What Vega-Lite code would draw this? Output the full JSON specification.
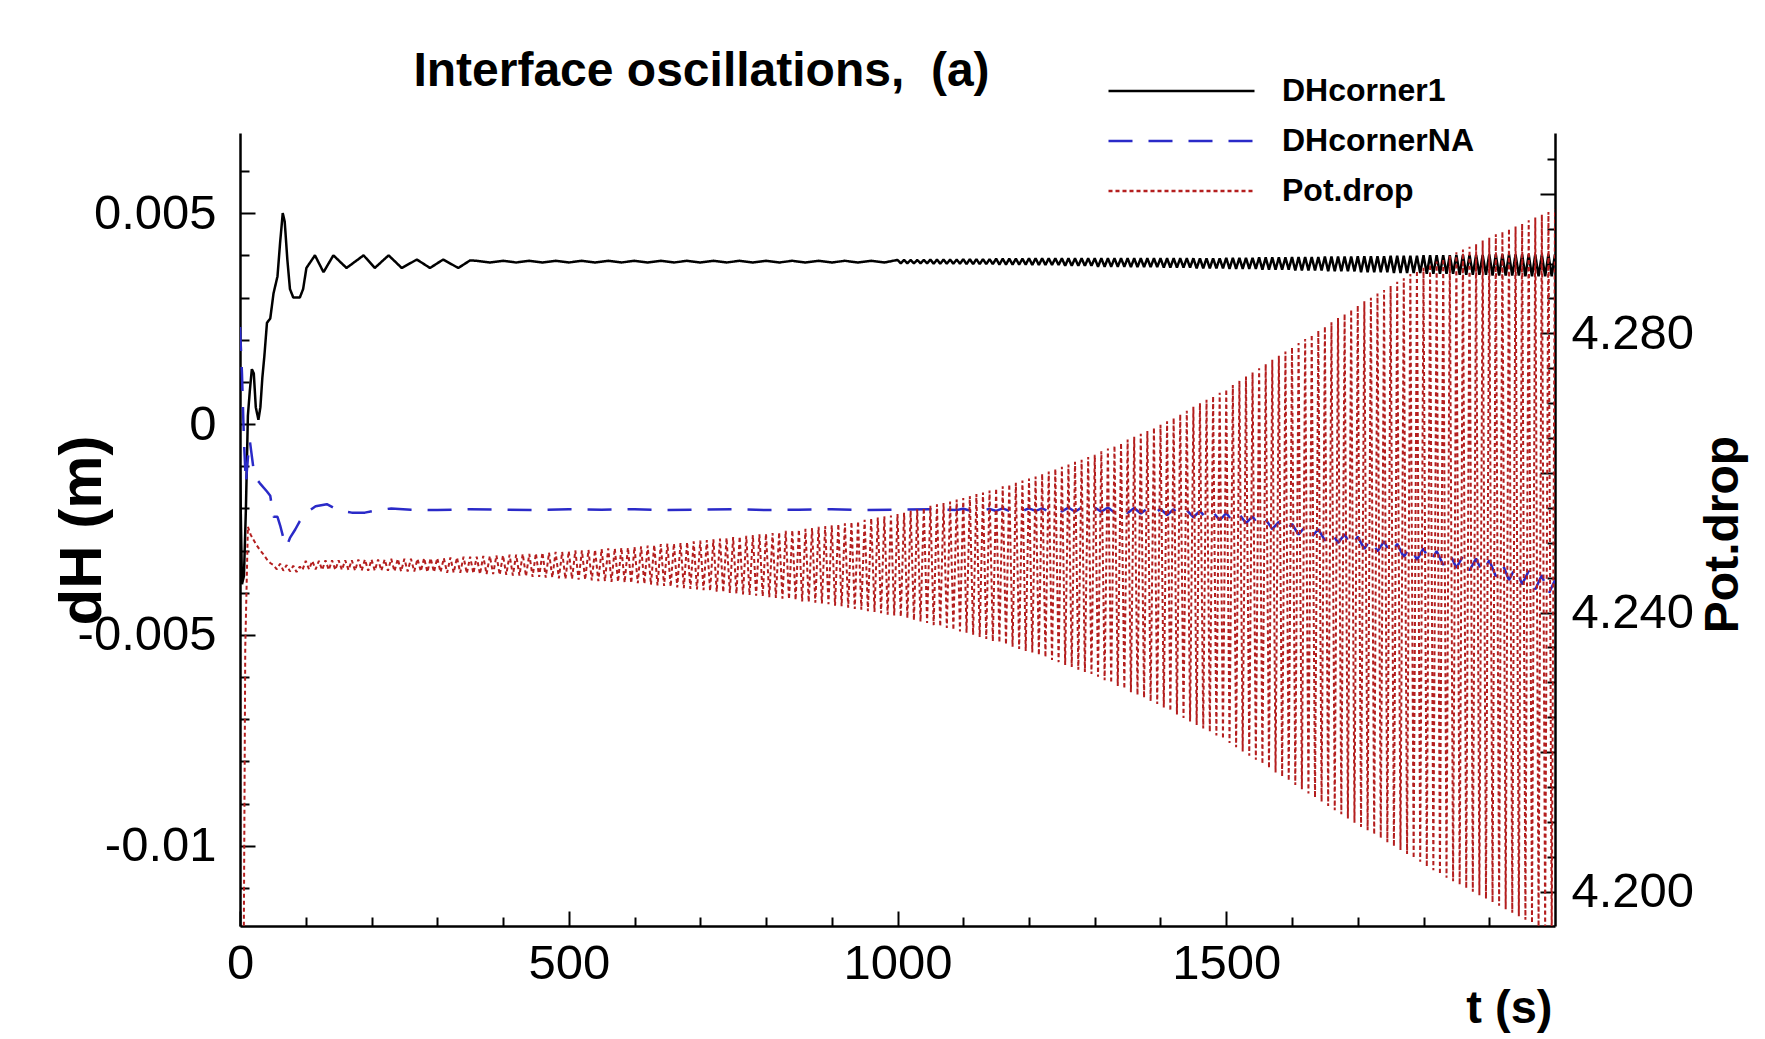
{
  "$schema": "https://vega.github.io/schema/vega-lite/v6.json",
  "width": 1315,
  "height": 793,
  "autosize": {"type": "none"},
  "padding": {"left": 240, "top": 133, "right": 210, "bottom": 113},
  "background": "white",
  "config": {
    "view": {"stroke": null},
    "font": "Liberation Sans",
    "axis": {
      "grid": false,
      "domainColor": "black",
      "domainWidth": 2.5,
      "tickColor": "black",
      "tickWidth": 2,
      "labelColor": "black",
      "titleColor": "black",
      "labelFont": "Liberation Sans",
      "labelFontSize": 49,
      "labelFontWeight": "normal",
      "titleFont": "Liberation Sans",
      "titleFontWeight": "bold",
      "labelOverlap": false,
      "labelFlush": false,
      "labelBound": false,
      "labelLimit": 400
    }
  },
  "title": {
    "text": "Interface oscillations,\u00a0 (a)",
    "anchor": "middle",
    "frame": "group",
    "dx": -196,
    "dy": 112,
    "offset": 44,
    "baseline": "alphabetic",
    "font": "Liberation Sans",
    "fontSize": 48,
    "fontWeight": "bold",
    "color": "black"
  },
  "datasets": {
    "c1": [
      {"t":0,"v":-0.001},{"t":3,"v":-0.0038},{"t":6,"v":-0.0036},{"t":9,"v":-0.002},{"t":12,"v":0.0002},{"t":15,"v":0.0008},{"t":18,"v":0.0013},{"t":21,"v":0.0012},{"t":24,"v":0.0004},{"t":28,"v":0.0001},{"t":31,"v":0.0004},{"t":34,"v":0.0011},{"t":37,"v":0.0016},{"t":41,"v":0.0024},{"t":46,"v":0.0025},{"t":51,"v":0.0031},{"t":57,"v":0.0035},{"t":61,"v":0.0043},{"t":65,"v":0.005},{"t":68,"v":0.0048},{"t":72,"v":0.0039},{"t":76,"v":0.0032},{"t":81,"v":0.003},{"t":91,"v":0.003},{"t":96,"v":0.0032},{"t":101,"v":0.0037},{"t":114,"v":0.004},{"t":127,"v":0.0036},{"t":142,"v":0.004},{"t":162,"v":0.0037},{"t":188,"v":0.004},{"t":205,"v":0.0037},{"t":226,"v":0.004},{"t":246,"v":0.0037},{"t":269,"v":0.0039},{"t":289,"v":0.0037},{"t":309,"v":0.0039},{"t":332,"v":0.0037},{"t":350,"v":0.00388},
      {"t":360,"v":0.00387},{"t":380,"v":0.00383},{"t":400,"v":0.00387},{"t":420,"v":0.00383},{"t":440,"v":0.00387},{"t":460,"v":0.00383},{"t":480,"v":0.00387},{"t":500,"v":0.00383},{"t":520,"v":0.00387},{"t":540,"v":0.00383},{"t":560,"v":0.00387},{"t":580,"v":0.00383},{"t":600,"v":0.00387},{"t":620,"v":0.00383},{"t":640,"v":0.00387},{"t":660,"v":0.00383},{"t":680,"v":0.00387},{"t":700,"v":0.00383},{"t":720,"v":0.00387},{"t":740,"v":0.00383},{"t":760,"v":0.00387},{"t":780,"v":0.00383},{"t":800,"v":0.00387},{"t":820,"v":0.00383},{"t":840,"v":0.00387},{"t":860,"v":0.00383},{"t":880,"v":0.00387},{"t":900,"v":0.00383},{"t":920,"v":0.00387},{"t":940,"v":0.00383},{"t":960,"v":0.00387},{"t":980,"v":0.00383},
      {"t":1000,"v":0.00389},{"t":1005,"v":0.00381},{"t":1010,"v":0.00389},{"t":1015,"v":0.00381},{"t":1020,"v":0.00389},{"t":1025,"v":0.00381},{"t":1030,"v":0.00389},{"t":1035,"v":0.00381},{"t":1040,"v":0.00389},{"t":1045,"v":0.00381},
      {"t":1050,"v":0.0039},{"t":1055,"v":0.0038},{"t":1060,"v":0.0039},{"t":1065,"v":0.0038},{"t":1070,"v":0.0039},{"t":1075,"v":0.0038},{"t":1080,"v":0.0039},{"t":1085,"v":0.0038},{"t":1090,"v":0.0039},{"t":1095,"v":0.0038},
      {"t":1100,"v":0.00391},{"t":1105,"v":0.00379},{"t":1110,"v":0.00391},{"t":1115,"v":0.00379},{"t":1120,"v":0.00391},{"t":1125,"v":0.00379},{"t":1130,"v":0.00391},{"t":1135,"v":0.00379},{"t":1140,"v":0.00391},{"t":1145,"v":0.00379},
      {"t":1150,"v":0.00392},{"t":1155,"v":0.00378},{"t":1160,"v":0.00392},{"t":1165,"v":0.00378},{"t":1170,"v":0.00392},{"t":1175,"v":0.00378},{"t":1180,"v":0.00392},{"t":1185,"v":0.00378},{"t":1190,"v":0.00392},{"t":1195,"v":0.00378},
      {"t":1200,"v":0.00393},{"t":1205,"v":0.00377},{"t":1210,"v":0.00393},{"t":1215,"v":0.00377},{"t":1220,"v":0.00393},{"t":1225,"v":0.00377},{"t":1230,"v":0.00393},{"t":1235,"v":0.00377},{"t":1240,"v":0.00393},{"t":1245,"v":0.00377},
      {"t":1250,"v":0.00393},{"t":1255,"v":0.00375},{"t":1260,"v":0.00393},{"t":1265,"v":0.00375},{"t":1270,"v":0.00393},{"t":1275,"v":0.00375},{"t":1280,"v":0.00393},{"t":1285,"v":0.00375},{"t":1290,"v":0.00393},{"t":1295,"v":0.00375},
      {"t":1300,"v":0.00393},{"t":1305,"v":0.00373},{"t":1310,"v":0.00393},{"t":1315,"v":0.00373},{"t":1320,"v":0.00393},{"t":1325,"v":0.00373},{"t":1330,"v":0.00393},{"t":1335,"v":0.00373},{"t":1340,"v":0.00393},{"t":1345,"v":0.00373},
      {"t":1350,"v":0.00393},{"t":1355,"v":0.00372},{"t":1360,"v":0.00393},{"t":1365,"v":0.00372},{"t":1370,"v":0.00393},{"t":1375,"v":0.00372},{"t":1380,"v":0.00393},{"t":1385,"v":0.00372},{"t":1390,"v":0.00393},{"t":1395,"v":0.00372},
      {"t":1400,"v":0.00393},{"t":1405,"v":0.00371},{"t":1410,"v":0.00393},{"t":1415,"v":0.00371},{"t":1420,"v":0.00393},{"t":1425,"v":0.00371},{"t":1430,"v":0.00393},{"t":1435,"v":0.00371},{"t":1440,"v":0.00393},{"t":1445,"v":0.00371},
      {"t":1450,"v":0.00393},{"t":1455,"v":0.00369},{"t":1460,"v":0.00393},{"t":1465,"v":0.00369},{"t":1470,"v":0.00393},{"t":1475,"v":0.00369},{"t":1480,"v":0.00393},{"t":1485,"v":0.00369},{"t":1490,"v":0.00393},{"t":1495,"v":0.00369},
      {"t":1500,"v":0.00394},{"t":1505,"v":0.00368},{"t":1510,"v":0.00394},{"t":1515,"v":0.00368},{"t":1520,"v":0.00394},{"t":1525,"v":0.00368},{"t":1530,"v":0.00394},{"t":1535,"v":0.00368},{"t":1540,"v":0.00394},{"t":1545,"v":0.00368},
      {"t":1550,"v":0.00395},{"t":1555,"v":0.00366},{"t":1560,"v":0.00395},{"t":1565,"v":0.00366},{"t":1570,"v":0.00395},{"t":1575,"v":0.00366},{"t":1580,"v":0.00395},{"t":1585,"v":0.00366},{"t":1590,"v":0.00395},{"t":1595,"v":0.00366},
      {"t":1600,"v":0.00396},{"t":1605,"v":0.00364},{"t":1610,"v":0.00396},{"t":1615,"v":0.00364},{"t":1620,"v":0.00396},{"t":1625,"v":0.00364},{"t":1630,"v":0.00396},{"t":1635,"v":0.00364},{"t":1640,"v":0.00396},{"t":1645,"v":0.00364},
      {"t":1650,"v":0.00397},{"t":1655,"v":0.00362},{"t":1660,"v":0.00397},{"t":1665,"v":0.00362},{"t":1670,"v":0.00397},{"t":1675,"v":0.00362},{"t":1680,"v":0.00397},{"t":1685,"v":0.00362},{"t":1690,"v":0.00397},{"t":1695,"v":0.00362},
      {"t":1700,"v":0.00398},{"t":1705,"v":0.0036},{"t":1710,"v":0.00398},{"t":1715,"v":0.0036},{"t":1720,"v":0.00398},{"t":1725,"v":0.0036},{"t":1730,"v":0.00398},{"t":1735,"v":0.0036},{"t":1740,"v":0.00398},{"t":1745,"v":0.0036},
      {"t":1750,"v":0.00399},{"t":1755,"v":0.00358},{"t":1760,"v":0.00399},{"t":1765,"v":0.00358},{"t":1770,"v":0.00399},{"t":1775,"v":0.00358},{"t":1780,"v":0.00399},{"t":1785,"v":0.00358},{"t":1790,"v":0.00399},{"t":1795,"v":0.00358},
      {"t":1800,"v":0.004},{"t":1805,"v":0.00356},{"t":1810,"v":0.004},{"t":1815,"v":0.00356},{"t":1820,"v":0.004},{"t":1825,"v":0.00356},{"t":1830,"v":0.004},{"t":1835,"v":0.00356},{"t":1840,"v":0.004},{"t":1845,"v":0.00356},
      {"t":1850,"v":0.00401},{"t":1855,"v":0.00354},{"t":1860,"v":0.00401},{"t":1865,"v":0.00354},{"t":1870,"v":0.00401},{"t":1875,"v":0.00354},{"t":1880,"v":0.00401},{"t":1885,"v":0.00354},{"t":1890,"v":0.00401},{"t":1895,"v":0.00354},
      {"t":1900,"v":0.00402},{"t":1905,"v":0.00352},{"t":1910,"v":0.00402},{"t":1915,"v":0.00352},{"t":1920,"v":0.00402},{"t":1925,"v":0.00352},{"t":1930,"v":0.00402},{"t":1935,"v":0.00352},{"t":1940,"v":0.00402},{"t":1945,"v":0.00352},
      {"t":1950,"v":0.00402},{"t":1955,"v":0.0035},{"t":1960,"v":0.00402},{"t":1965,"v":0.0035},{"t":1970,"v":0.00402},{"t":1975,"v":0.0035},{"t":1980,"v":0.00402},{"t":1985,"v":0.0035},{"t":1990,"v":0.00402},{"t":1995,"v":0.0035},{"t":2000,"v":0.00402}
    ],
    "na": [
      {"t":0,"v":0.0023},{"t":3,"v":0.0012},{"t":6,"v":-0.0004},{"t":9,"v":-0.0014},{"t":12,"v":-0.0008},{"t":15,"v":-0.0004},{"t":20,"v":-0.001},{"t":25,"v":-0.0013},{"t":30,"v":-0.0014},{"t":41,"v":-0.0016},{"t":46,"v":-0.0017},{"t":51,"v":-0.0022},{"t":57,"v":-0.0022},{"t":61,"v":-0.0024},{"t":66,"v":-0.0027},{"t":71,"v":-0.0029},{"t":76,"v":-0.0027},{"t":84,"v":-0.0025},{"t":91,"v":-0.0023},{"t":101,"v":-0.0021},{"t":115,"v":-0.00195},{"t":132,"v":-0.0019},{"t":150,"v":-0.00205},{"t":170,"v":-0.0021},{"t":190,"v":-0.0021},{"t":205,"v":-0.00205},{"t":230,"v":-0.002},{"t":260,"v":-0.00203},{"t":300,"v":-0.00204},{"t":350,"v":-0.00202},{"t":400,"v":-0.00203},{"t":450,"v":-0.00204},{"t":500,"v":-0.00202},{"t":550,"v":-0.00203},{"t":600,"v":-0.00202},{"t":650,"v":-0.00204},{"t":700,"v":-0.00203},{"t":750,"v":-0.00202},{"t":800,"v":-0.00204},{"t":850,"v":-0.00203},{"t":900,"v":-0.00202},{"t":950,"v":-0.00204},{"t":1000,"v":-0.00203},{"t":1050,"v":-0.00202},{"t":1090,"v":-0.00204},
      {"t":1100,"v":-0.00201},{"t":1110,"v":-0.00205},{"t":1120,"v":-0.00201},{"t":1130,"v":-0.00205},{"t":1140,"v":-0.00201},{"t":1150,"v":-0.00206},{"t":1160,"v":-0.002},{"t":1170,"v":-0.00206},{"t":1180,"v":-0.002},{"t":1190,"v":-0.00206},{"t":1200,"v":-0.002},{"t":1210,"v":-0.00206},{"t":1220,"v":-0.002},{"t":1230,"v":-0.00207},{"t":1240,"v":-0.00199},{"t":1250,"v":-0.00207},{"t":1260,"v":-0.00198},{"t":1270,"v":-0.00208},{"t":1280,"v":-0.00198},{"t":1290,"v":-0.00208},{"t":1300,"v":-0.00198},{"t":1310,"v":-0.00208},{"t":1320,"v":-0.00198},{"t":1330,"v":-0.0021},{"t":1340,"v":-0.00198},{"t":1350,"v":-0.00211},{"t":1360,"v":-0.00199},{"t":1370,"v":-0.00212},{"t":1380,"v":-0.002},{"t":1390,"v":-0.00214},{"t":1400,"v":-0.00201},{"t":1410,"v":-0.00216},{"t":1420,"v":-0.00202},{"t":1430,"v":-0.00218},{"t":1440,"v":-0.00204},{"t":1450,"v":-0.00221},{"t":1460,"v":-0.00206},{"t":1470,"v":-0.00224},{"t":1480,"v":-0.00209},{"t":1490,"v":-0.00228},{"t":1500,"v":-0.00211},{"t":1510,"v":-0.00231},{"t":1520,"v":-0.00214},{"t":1530,"v":-0.00235},{"t":1540,"v":-0.00219},{"t":1550,"v":-0.00242},{"t":1560,"v":-0.00226},{"t":1570,"v":-0.00249},{"t":1580,"v":-0.00232},{"t":1590,"v":-0.00256},{"t":1600,"v":-0.00237},{"t":1610,"v":-0.00262},{"t":1620,"v":-0.00243},{"t":1630,"v":-0.00268},{"t":1640,"v":-0.00249},{"t":1650,"v":-0.00276},{"t":1660,"v":-0.00255},{"t":1670,"v":-0.00282},{"t":1680,"v":-0.00261},{"t":1690,"v":-0.00291},{"t":1700,"v":-0.00267},{"t":1710,"v":-0.00296},{"t":1720,"v":-0.00272},{"t":1730,"v":-0.00302},{"t":1740,"v":-0.00278},{"t":1750,"v":-0.00309},{"t":1760,"v":-0.00284},{"t":1770,"v":-0.00315},{"t":1780,"v":-0.0029},{"t":1790,"v":-0.00322},{"t":1800,"v":-0.00295},{"t":1810,"v":-0.00328},{"t":1820,"v":-0.00301},{"t":1830,"v":-0.00334},{"t":1840,"v":-0.00307},{"t":1850,"v":-0.00341},{"t":1860,"v":-0.00313},{"t":1870,"v":-0.00347},{"t":1880,"v":-0.00319},{"t":1890,"v":-0.00354},{"t":1900,"v":-0.00323},{"t":1910,"v":-0.00361},{"t":1920,"v":-0.00331},{"t":1930,"v":-0.0037},{"t":1940,"v":-0.00339},{"t":1950,"v":-0.0038},{"t":1960,"v":-0.00348},{"t":1970,"v":-0.00392},{"t":1980,"v":-0.00358},{"t":1990,"v":-0.00404},{"t":2000,"v":-0.0037}
    ],
    "pot": [
      {"t":0,"v":4.14},{"t":4,"v":4.16},{"t":8,"v":4.235},{"t":12,"v":4.2523},{"t":16,"v":4.2512},{"t":20,"v":4.2505},{"t":25,"v":4.2497},{"t":30,"v":4.249},{"t":36,"v":4.2483},{"t":41,"v":4.2476},{"t":46,"v":4.2471},{"t":51,"v":4.2468},{"t":56,"v":4.2462},{"t":61,"v":4.247},{"t":66,"v":4.246},{"t":71,"v":4.2468},{"t":76,"v":4.2459},{"t":81,"v":4.2467},{"t":86,"v":4.2458},{"t":91,"v":4.2466},{"t":95,"v":4.2461},
      {"t":100,"v":4.2474},{"t":105,"v":4.2462},{"t":110,"v":4.2474},{"t":115,"v":4.2462},{"t":120,"v":4.2474},{"t":125,"v":4.2461},{"t":130,"v":4.2475},{"t":135,"v":4.2461},{"t":140,"v":4.2475},{"t":145,"v":4.2461},{"t":150,"v":4.2475},{"t":155,"v":4.2461},{"t":160,"v":4.2475},{"t":165,"v":4.2461},{"t":170,"v":4.2475},{"t":175,"v":4.246},{"t":180,"v":4.2476},{"t":185,"v":4.246},{"t":190,"v":4.2476},{"t":195,"v":4.246},
      {"t":200,"v":4.2476},{"t":205,"v":4.246},{"t":210,"v":4.2476},{"t":215,"v":4.246},{"t":220,"v":4.2476},{"t":225,"v":4.246},{"t":230,"v":4.2477},{"t":235,"v":4.2459},{"t":240,"v":4.2477},{"t":245,"v":4.2459},{"t":250,"v":4.2477},{"t":255,"v":4.2459},{"t":260,"v":4.2477},{"t":265,"v":4.2459},{"t":270,"v":4.2477},{"t":275,"v":4.2459},{"t":280,"v":4.2478},{"t":285,"v":4.2458},{"t":290,"v":4.2478},{"t":295,"v":4.2458},
      {"t":300,"v":4.2478},{"t":305,"v":4.2458},{"t":310,"v":4.2478},{"t":315,"v":4.2457},{"t":320,"v":4.2479},{"t":325,"v":4.2457},{"t":330,"v":4.2479},{"t":335,"v":4.2457},{"t":340,"v":4.248},{"t":345,"v":4.2456},{"t":350,"v":4.248},{"t":355,"v":4.2456},{"t":360,"v":4.248},{"t":365,"v":4.2455},{"t":370,"v":4.2481},{"t":375,"v":4.2455},{"t":380,"v":4.2481},{"t":385,"v":4.2455},{"t":390,"v":4.2482},{"t":395,"v":4.2454},
      {"t":400,"v":4.2482},{"t":405,"v":4.2454},{"t":410,"v":4.2483},{"t":415,"v":4.2453},{"t":420,"v":4.2483},{"t":425,"v":4.2453},{"t":430,"v":4.2484},{"t":435,"v":4.2452},{"t":440,"v":4.2484},{"t":445,"v":4.2451},{"t":450,"v":4.2485},{"t":455,"v":4.2451},{"t":460,"v":4.2486},{"t":465,"v":4.245},{"t":470,"v":4.2486},{"t":475,"v":4.245},{"t":480,"v":4.2487},{"t":485,"v":4.2449},{"t":490,"v":4.2487},{"t":495,"v":4.2448},
      {"t":500,"v":4.2488},{"t":505,"v":4.2448},{"t":510,"v":4.2489},{"t":515,"v":4.2447},{"t":520,"v":4.2489},{"t":525,"v":4.2447},{"t":530,"v":4.249},{"t":535,"v":4.2446},{"t":540,"v":4.249},{"t":545,"v":4.2445},{"t":550,"v":4.2491},{"t":555,"v":4.2445},{"t":560,"v":4.2492},{"t":565,"v":4.2444},{"t":570,"v":4.2492},{"t":575,"v":4.2444},{"t":580,"v":4.2493},{"t":585,"v":4.2443},{"t":590,"v":4.2493},{"t":595,"v":4.2442},
      {"t":600,"v":4.2494},{"t":605,"v":4.2442},{"t":610,"v":4.2495},{"t":615,"v":4.2441},{"t":620,"v":4.2496},{"t":625,"v":4.244},{"t":630,"v":4.2497},{"t":635,"v":4.2439},{"t":640,"v":4.2498},{"t":645,"v":4.2438},{"t":650,"v":4.2499},{"t":655,"v":4.2437},{"t":660,"v":4.2499},{"t":665,"v":4.2436},{"t":670,"v":4.25},{"t":675,"v":4.2435},{"t":680,"v":4.2501},{"t":685,"v":4.2434},{"t":690,"v":4.2502},{"t":695,"v":4.2433},
      {"t":700,"v":4.2503},{"t":705,"v":4.2432},{"t":710,"v":4.2504},{"t":715,"v":4.2431},{"t":720,"v":4.2505},{"t":725,"v":4.243},{"t":730,"v":4.2506},{"t":735,"v":4.2429},{"t":740,"v":4.2507},{"t":745,"v":4.2428},{"t":750,"v":4.2508},{"t":755,"v":4.2427},{"t":760,"v":4.2509},{"t":765,"v":4.2426},{"t":770,"v":4.251},{"t":775,"v":4.2425},{"t":780,"v":4.2511},{"t":785,"v":4.2424},{"t":790,"v":4.2512},{"t":795,"v":4.2423},
      {"t":800,"v":4.2513},{"t":805,"v":4.2422},{"t":810,"v":4.2514},{"t":815,"v":4.2421},{"t":820,"v":4.2515},{"t":825,"v":4.242},{"t":830,"v":4.2517},{"t":835,"v":4.2419},{"t":840,"v":4.2518},{"t":845,"v":4.2418},{"t":850,"v":4.2519},{"t":855,"v":4.2416},{"t":860,"v":4.252},{"t":865,"v":4.2415},{"t":870,"v":4.2521},{"t":875,"v":4.2414},{"t":880,"v":4.2523},{"t":885,"v":4.2413},{"t":890,"v":4.2524},{"t":895,"v":4.2412},
      {"t":900,"v":4.2525},{"t":905,"v":4.241},{"t":910,"v":4.2527},{"t":915,"v":4.2409},{"t":920,"v":4.2528},{"t":925,"v":4.2407},{"t":930,"v":4.253},{"t":935,"v":4.2405},{"t":940,"v":4.2531},{"t":945,"v":4.2404},{"t":950,"v":4.2533},{"t":955,"v":4.2402},{"t":960,"v":4.2535},{"t":965,"v":4.2401},{"t":970,"v":4.2536},{"t":975,"v":4.2399},{"t":980,"v":4.2538},{"t":985,"v":4.2397},{"t":990,"v":4.2539},{"t":995,"v":4.2396},
      {"t":1000,"v":4.2541},{"t":1005,"v":4.2394},{"t":1010,"v":4.2543},{"t":1015,"v":4.2392},{"t":1020,"v":4.2546},{"t":1025,"v":4.2389},{"t":1030,"v":4.2548},{"t":1035,"v":4.2387},{"t":1040,"v":4.255},{"t":1045,"v":4.2385},{"t":1050,"v":4.2553},{"t":1055,"v":4.2382},{"t":1060,"v":4.2555},{"t":1065,"v":4.238},{"t":1070,"v":4.2557},{"t":1075,"v":4.2378},{"t":1080,"v":4.2559},{"t":1085,"v":4.2375},{"t":1090,"v":4.2562},{"t":1095,"v":4.2373},
      {"t":1100,"v":4.2564},{"t":1105,"v":4.2371},{"t":1110,"v":4.2567},{"t":1115,"v":4.2368},{"t":1120,"v":4.257},{"t":1125,"v":4.2365},{"t":1130,"v":4.2572},{"t":1135,"v":4.2362},{"t":1140,"v":4.2575},{"t":1145,"v":4.2359},{"t":1150,"v":4.2578},{"t":1155,"v":4.2357},{"t":1160,"v":4.2581},{"t":1165,"v":4.2354},{"t":1170,"v":4.2584},{"t":1175,"v":4.2351},{"t":1180,"v":4.2586},{"t":1185,"v":4.2348},{"t":1190,"v":4.2589},{"t":1195,"v":4.2345},
      {"t":1200,"v":4.2592},{"t":1205,"v":4.2343},{"t":1210,"v":4.2595},{"t":1215,"v":4.2339},{"t":1220,"v":4.2599},{"t":1225,"v":4.2336},{"t":1230,"v":4.2602},{"t":1235,"v":4.2332},{"t":1240,"v":4.2606},{"t":1245,"v":4.2329},{"t":1250,"v":4.2609},{"t":1255,"v":4.2325},{"t":1260,"v":4.2612},{"t":1265,"v":4.2322},{"t":1270,"v":4.2616},{"t":1275,"v":4.2318},{"t":1280,"v":4.2619},{"t":1285,"v":4.2315},{"t":1290,"v":4.2623},{"t":1295,"v":4.2312},
      {"t":1300,"v":4.2626},{"t":1305,"v":4.2308},{"t":1310,"v":4.2631},{"t":1315,"v":4.2303},{"t":1320,"v":4.2635},{"t":1325,"v":4.2299},{"t":1330,"v":4.2639},{"t":1335,"v":4.2295},{"t":1340,"v":4.2643},{"t":1345,"v":4.2291},{"t":1350,"v":4.2648},{"t":1355,"v":4.2286},{"t":1360,"v":4.2652},{"t":1365,"v":4.2282},{"t":1370,"v":4.2656},{"t":1375,"v":4.2278},{"t":1380,"v":4.266},{"t":1385,"v":4.2273},{"t":1390,"v":4.2665},{"t":1395,"v":4.2269},
      {"t":1400,"v":4.2669},{"t":1405,"v":4.2264},{"t":1410,"v":4.2674},{"t":1415,"v":4.2259},{"t":1420,"v":4.2679},{"t":1425,"v":4.2254},{"t":1430,"v":4.2684},{"t":1435,"v":4.2249},{"t":1440,"v":4.2689},{"t":1445,"v":4.2244},{"t":1450,"v":4.2695},{"t":1455,"v":4.2239},{"t":1460,"v":4.27},{"t":1465,"v":4.2234},{"t":1470,"v":4.2705},{"t":1475,"v":4.2229},{"t":1480,"v":4.271},{"t":1485,"v":4.2224},{"t":1490,"v":4.2715},{"t":1495,"v":4.2219},
      {"t":1500,"v":4.272},{"t":1505,"v":4.2213},{"t":1510,"v":4.2726},{"t":1515,"v":4.2207},{"t":1520,"v":4.2732},{"t":1525,"v":4.2201},{"t":1530,"v":4.2738},{"t":1535,"v":4.2195},{"t":1540,"v":4.2744},{"t":1545,"v":4.2189},{"t":1550,"v":4.275},{"t":1555,"v":4.2183},{"t":1560,"v":4.2756},{"t":1565,"v":4.2177},{"t":1570,"v":4.2762},{"t":1575,"v":4.2171},{"t":1580,"v":4.2768},{"t":1585,"v":4.2165},{"t":1590,"v":4.2774},{"t":1595,"v":4.2159},
      {"t":1600,"v":4.278},{"t":1605,"v":4.2153},{"t":1610,"v":4.2786},{"t":1615,"v":4.2147},{"t":1620,"v":4.2792},{"t":1625,"v":4.2141},{"t":1630,"v":4.2798},{"t":1635,"v":4.2135},{"t":1640,"v":4.2804},{"t":1645,"v":4.2129},{"t":1650,"v":4.281},{"t":1655,"v":4.2123},{"t":1660,"v":4.2816},{"t":1665,"v":4.2117},{"t":1670,"v":4.2822},{"t":1675,"v":4.2111},{"t":1680,"v":4.2828},{"t":1685,"v":4.2105},{"t":1690,"v":4.2834},{"t":1695,"v":4.2099},
      {"t":1700,"v":4.284},{"t":1705,"v":4.2093},{"t":1710,"v":4.2846},{"t":1715,"v":4.2088},{"t":1720,"v":4.2851},{"t":1725,"v":4.2082},{"t":1730,"v":4.2857},{"t":1735,"v":4.2077},{"t":1740,"v":4.2862},{"t":1745,"v":4.2071},{"t":1750,"v":4.2868},{"t":1755,"v":4.2065},{"t":1760,"v":4.2874},{"t":1765,"v":4.206},{"t":1770,"v":4.2879},{"t":1775,"v":4.2054},{"t":1780,"v":4.2885},{"t":1785,"v":4.2048},{"t":1790,"v":4.289},{"t":1795,"v":4.2043},
      {"t":1800,"v":4.2894},{"t":1805,"v":4.2036},{"t":1810,"v":4.2899},{"t":1815,"v":4.2031},{"t":1820,"v":4.2903},{"t":1825,"v":4.2025},{"t":1830,"v":4.2907},{"t":1835,"v":4.202},{"t":1840,"v":4.2911},{"t":1845,"v":4.2015},{"t":1850,"v":4.2916},{"t":1855,"v":4.201},{"t":1860,"v":4.292},{"t":1865,"v":4.2005},{"t":1870,"v":4.2924},{"t":1875,"v":4.2},{"t":1880,"v":4.2928},{"t":1885,"v":4.1995},{"t":1890,"v":4.2933},{"t":1895,"v":4.199},
      {"t":1900,"v":4.2937},{"t":1905,"v":4.1985},{"t":1910,"v":4.2942},{"t":1915,"v":4.198},{"t":1920,"v":4.2946},{"t":1925,"v":4.1975},{"t":1930,"v":4.295},{"t":1935,"v":4.197},{"t":1940,"v":4.2953},{"t":1945,"v":4.1965},{"t":1950,"v":4.2957},{"t":1955,"v":4.196},{"t":1960,"v":4.2962},{"t":1965,"v":4.1955},{"t":1970,"v":4.2966},{"t":1975,"v":4.195},{"t":1980,"v":4.297},{"t":1985,"v":4.1945},{"t":1990,"v":4.2974},{"t":1995,"v":4.194},{"t":2000,"v":4.2978}
    ]
  },
  "encoding": {
    "x": {
      "field": "t",
      "type": "quantitative",
      "scale": {"domain": [0, 2000], "nice": false, "zero": false},
      "axis": {
        "orient": "bottom",
        "values": [0,100,200,300,400,500,600,700,800,900,1000,1100,1200,1300,1400,1500,1600,1700,1800,1900],
        "tickSize": {"condition": {"test": "datum.value % 500 === 0", "value": -15}, "value": -9},
        "labelExpr": "datum.value % 500 === 0 ? toString(datum.value) : ''",
        "labelPadding": 28,
        "labelBaseline": "top",
        "title": "t (s)",
        "titleFontSize": 47,
        "titleX": 1312,
        "titleY": 96,
        "titleAlign": "right",
        "titleBaseline": "alphabetic",
        "titleAnchor": null
      }
    }
  },
  "layer": [
    {
      "encoding": {
        "y": {
          "field": "v",
          "type": "quantitative",
          "scale": {"domain": [-0.0119, 0.0069], "nice": false, "zero": false},
          "axis": {
            "orient": "left",
            "values": [-0.011,-0.01,-0.009,-0.008,-0.007,-0.006,-0.005,-0.004,-0.003,-0.002,-0.001,0,0.001,0.002,0.003,0.004,0.005,0.006],
            "tickSize": {"condition": {"test": "abs(round(datum.value*1000)) % 5 === 0", "value": -15}, "value": -9},
            "labelExpr": "abs(round(datum.value*1000)) % 5 === 0 ? toString(datum.value) : ''",
            "labelPadding": 39,
            "title": "dH (m)",
            "titleFontSize": 60,
            "titleAngle": -90,
            "titleX": -158,
            "titleY": 397,
            "titleAlign": "center",
            "titleBaseline": "middle"
          }
        }
      },
      "layer": [
        {
          "data": {"name": "c1"},
          "mark": {"type": "line", "clip": true, "strokeWidth": 2.5, "strokeJoin": "bevel"},
          "encoding": {
            "color": {
              "datum": "DHcorner1",
              "scale": {"domain": ["DHcorner1", "DHcornerNA", "Pot.drop"], "range": ["#000000", "#2a2ac8", "#b41e1e"]},
              "legend": {
                "orient": "none",
                "legendX": 867,
                "legendY": -67,
                "title": null,
                "symbolType": "stroke",
                "symbolSize": 21316,
                "symbolStrokeWidth": 2.5,
                "clipHeight": 50,
                "rowPadding": 0,
                "labelOffset": 26,
                "labelFont": "Liberation Sans",
                "labelFontSize": 32,
                "labelFontWeight": "bold",
                "labelColor": "black",
                "labelLimit": 400,
                "padding": 0
              }
            },
            "strokeDash": {
              "datum": "DHcorner1",
              "scale": {"domain": ["DHcorner1", "DHcornerNA", "Pot.drop"], "range": [[1, 0], [24, 16], [4, 3]]}
            }
          }
        },
        {
          "data": {"name": "na"},
          "mark": {"type": "line", "clip": true, "strokeWidth": 2.5, "strokeJoin": "bevel"},
          "encoding": {
            "color": {"datum": "DHcornerNA"},
            "strokeDash": {"datum": "DHcornerNA"}
          }
        }
      ]
    },
    {
      "data": {"name": "pot"},
      "mark": {"type": "line", "clip": true, "strokeWidth": 2, "strokeJoin": "bevel"},
      "encoding": {
        "y": {
          "field": "v",
          "type": "quantitative",
          "scale": {"domain": [4.1951, 4.3087], "nice": false, "zero": false},
          "axis": {
            "orient": "right",
            "values": [4.2,4.205,4.21,4.215,4.22,4.225,4.23,4.235,4.24,4.245,4.25,4.255,4.26,4.265,4.27,4.275,4.28,4.285,4.29,4.295,4.3,4.305],
            "tickSize": {"condition": {"test": "round(datum.value*1000) % 20 === 0", "value": -15}, "value": -8},
            "labelExpr": "round(datum.value*1000) % 40 === 0 ? format(datum.value, '.3f') : ''",
            "labelPadding": 31,
            "title": "Pot.drop",
            "titleFontSize": 48,
            "titleAngle": -90,
            "titleX": 168,
            "titleY": 401,
            "titleAlign": "center",
            "titleBaseline": "middle"
          }
        },
        "color": {"datum": "Pot.drop"},
        "strokeDash": {"datum": "Pot.drop"}
      }
    }
  ],
  "resolve": {"scale": {"y": "independent"}}
}
